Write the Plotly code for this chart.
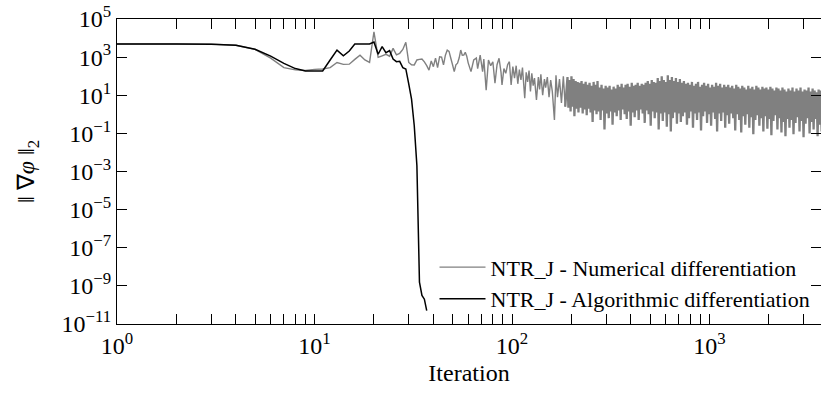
import plotly.graph_objects as go

# ---------------- data (log10 of ||grad phi||_2) ----------------
alg_iter = [1, 2, 3, 4, 5, 6, 7, 8, 9, 10, 11, 12, 13, 14, 15, 16, 17, 18, 19,
            20, 21, 22, 23, 24, 25, 26, 27, 28, 29, 30, 31, 32, 33, 34, 35, 36, 37]
alg_log = [3.69, 3.69, 3.68, 3.62, 3.41, 3.05, 2.67, 2.40, 2.27, 2.27, 2.27, 2.85,
           3.37, 3.07, 3.32, 3.69, 3.69, 3.69, 3.69, 3.79, 3.15, 3.55, 3.23, 3.34,
           2.90, 2.76, 2.78, 2.45, 2.38, 1.60, 0.80, -0.60, -2.70, -8.80, -9.50,
           -9.70, -10.30]

num_iter_a = [1, 2, 3, 4, 5, 6, 7, 8, 9, 10, 11, 12, 13, 14, 15, 16, 17, 18, 19, 20,
              21, 22, 23, 24, 25, 26, 27, 28, 29, 30, 31, 32, 33, 34, 35, 36, 37, 38,
              39, 40, 41, 42, 43, 44, 45, 46, 47, 48, 49, 50, 51, 52, 53, 54, 55, 56,
              57, 58, 59, 60, 62, 64, 66, 67, 69, 71, 72, 74, 76, 78, 80, 82, 84, 86,
              88, 89, 91, 93, 95, 97, 99, 101, 103, 105, 107, 109, 111, 113, 116, 118,
              120, 122, 124, 126, 128, 130, 133, 136, 138, 140, 143, 146, 148, 151,
              154, 157, 160, 164, 167, 170, 174, 178, 182, 186]
num_log_a = [3.69, 3.69, 3.68, 3.62, 3.41, 2.95, 2.45, 2.33, 2.30, 2.36, 2.38, 2.45,
             2.72, 2.62, 2.63, 2.88, 3.10, 2.85, 2.72, 4.33, 2.99, 3.07, 3.15, 3.05,
             3.46, 3.12, 3.20, 3.40, 3.78, 2.72, 2.60, 2.59, 2.85, 2.88, 2.90, 2.75,
             2.55, 2.32, 2.80, 2.50, 2.95, 2.45, 3.02, 3.00, 2.59, 3.10, 3.37, 3.30,
             2.94, 2.60, 2.24, 2.60, 2.68, 2.95, 3.37, 3.10, 3.11, 3.25, 3.05, 2.70,
             2.24, 2.85, 2.95, 2.40, 3.11, 2.24, 2.90, 1.27, 2.85, 2.55, 2.75, 1.63,
             2.60, 2.94, 2.20, 1.54, 2.40, 2.15, 2.60, 2.76, 1.54, 2.50, 1.90, 2.55,
             1.60, 2.35, 1.80, 2.45, 0.84, 2.20, 1.70, 2.30, 1.20, 2.15, 1.50, 1.90,
             0.75, 1.95, 1.30, 2.10, 1.00, 1.85, 1.40, 1.95, 0.90, 1.80, 1.20, -0.30,
             2.05, 0.90, 1.85, 0.60, 2.00, 0.40]

num_iter_b = [191, 193, 196, 198, 200, 203, 205, 207, 210, 212,
              215, 217, 220, 222, 225, 228, 230, 233, 236, 239,
              241, 244, 247, 250, 253, 256, 259, 262, 265, 268,
              271, 274, 278, 281, 284, 288, 291, 294, 298, 301,
              305, 309, 312, 316, 320, 323, 327, 331, 335, 339,
              343, 347, 351, 355, 359, 363, 368, 372, 376, 381,
              385, 390, 394, 399, 404, 408, 413, 418, 423, 428,
              433, 438, 443, 448, 454, 459, 464, 470, 475, 481,
              487, 492, 498, 504, 510, 516, 522, 528, 534, 541,
              547, 553, 560, 567, 573, 580, 587, 594, 601, 608,
              615, 622, 630, 637, 645, 652, 660, 668, 676, 684,
              692, 700, 708, 716, 725, 733, 742, 751, 760, 769,
              778, 787, 796, 806, 815, 825, 835, 844, 854, 865,
              875, 885, 896, 906, 917, 928, 939, 950, 961, 972,
              984, 995, 1007, 1019, 1031, 1043, 1055, 1068, 1080, 1093,
              1106, 1119, 1132, 1146, 1159, 1173, 1187, 1201, 1215, 1229,
              1244, 1258, 1273, 1288, 1303, 1319, 1334, 1350, 1366, 1382,
              1398, 1415, 1431, 1448, 1465, 1483, 1500, 1518, 1536, 1554,
              1572, 1591, 1610, 1629, 1648, 1667, 1687, 1707, 1727, 1747,
              1768, 1789, 1810, 1831, 1853, 1874, 1896, 1919, 1941, 1964,
              1987, 2011, 2034, 2058, 2082, 2107, 2132, 2157, 2182, 2208,
              2234, 2260, 2287, 2314, 2341, 2368, 2396, 2425, 2453, 2482,
              2511, 2541, 2571, 2601, 2632, 2663, 2694, 2726, 2758, 2790,
              2823, 2857, 2890, 2924, 2959, 2994, 3029, 3065, 3101, 3137,
              3174, 3212, 3250, 3288, 3327, 3366, 3406, 3446, 3486, 3527,
              3569, 3611, 3654, 3697]
num_log_b = [1.95, 0.35, 1.80, 0.15, 2.00, 0.40, 1.85, -0.10, 1.75, 0.30,
             1.70, 0.10, 1.65, 0.35, 1.75, 0.05, 1.60, 0.25, 1.70, -0.05,
             1.55, 0.30, 1.65, 0.10, 1.50, -0.40, 1.70, 0.20, 1.55, 0.00,
             1.75, 0.15, 1.40, -0.30, 1.55, 0.20, 1.35, -0.80, 1.50, 0.05,
             1.40, -0.20, 1.50, 0.15, 1.30, -0.55, 1.45, 0.10, 1.35, -0.10,
             1.55, 0.20, 1.45, -0.30, 1.60, 0.25, 1.40, 0.00, 1.55, -0.25,
             1.60, 0.15, 1.45, -0.60, 1.65, 0.10, 1.50, -0.15, 1.55, 0.20,
             1.65, -0.30, 1.50, 0.25, 1.60, 0.05, 1.55, -0.45, 1.65, 0.20,
             1.75, 0.00, 1.60, -0.60, 1.80, 0.15, 1.70, -0.20, 1.65, 0.10,
             1.90, -0.80, 1.75, 0.05, 2.00, -0.35, 1.80, 0.10, 1.70, -0.65,
             2.05, 0.00, 1.80, -0.90, 1.95, -0.20, 1.75, 0.10, 1.90, -0.50,
             1.70, 0.05, 1.85, -0.40, 1.65, -0.10, 1.75, 0.10, 1.60, -0.55,
             1.65, -0.20, 1.55, 0.15, 1.70, -0.70, 1.50, 0.05, 1.60, -0.30,
             1.70, 0.10, 1.45, -0.85, 1.55, -0.10, 1.65, 0.15, 1.50, -0.45,
             1.60, 0.00, 1.40, -0.60, 1.55, 0.10, 1.45, -0.25, 1.65, -0.90,
             1.50, 0.05, 1.60, -0.35, 1.40, 0.10, 1.55, -0.70, 1.45, -0.05,
             1.55, -0.50, 1.40, 0.05, 1.50, -0.20, 1.35, -0.85, 1.55, 0.00,
             1.45, -0.30, 1.35, -0.95, 1.50, -0.10, 1.40, -0.55, 1.30, 0.00,
             1.50, -0.70, 1.35, -0.15, 1.45, -1.05, 1.30, -0.30, 1.50, -0.05,
             1.40, -0.60, 1.30, -0.20, 1.45, -0.90, 1.35, -0.10, 1.40, -0.75,
             1.30, -0.25, 1.45, -1.10, 1.35, -0.35, 1.25, -0.05, 1.40, -0.80,
             1.35, -0.20, 1.25, -0.95, 1.40, -0.40, 1.30, -1.15, 1.20, -0.25,
             1.35, -0.70, 1.25, -0.30, 1.40, -1.05, 1.20, -0.45, 1.35, -0.15,
             1.25, -0.90, 1.40, -0.35, 1.20, -1.20, 1.30, -0.50, 1.25, -0.20,
             1.40, -1.00, 1.20, -0.40, 1.35, -0.80, 1.25, -0.25, 1.15, -1.15,
             1.30, -0.55, 1.25, -0.90]

x_tick_vals = [1, 10, 100, 1000]
x_tick_text = ["10<sup>0</sup>", "10<sup>1</sup>", "10<sup>2</sup>", "10<sup>3</sup>"]
x_minor_vals = [m * d for d in (1, 10, 100, 1000) for m in range(2, 10)]
y_exponents = [5, 3, 1, -1, -3, -5, -7, -9, -11]
y_tick_text = ["10<sup>%s</sup>" % str(e).replace("-", "\u2212") for e in y_exponents]

label_num = "NTR_J - Numerical differentiation"
label_alg = "NTR_J - Algorithmic differentiation"

# ---------------- figure ----------------
pairs_b = list(zip(num_iter_b, num_log_b))
num_x_a = num_iter_a
num_y_a = [10 ** v for v in num_log_a]
# dense tail continues from the last sparse sample
num_x_b = [num_iter_a[-1]] + [p[0] for p in pairs_b]
num_y_b = [10 ** num_log_a[-1]] + [10 ** p[1] for p in pairs_b]
alg_y = [10 ** v for v in alg_log]

FONT = "Liberation Serif, Times New Roman, serif"
GRAY = "#808080"

fig = go.Figure()
fig.add_trace(go.Scatter(x=num_x_a, y=num_y_a, mode="lines", name=label_num,
                         legendgroup="num",
                         line=dict(color=GRAY, width=1.4, simplify=False)))
fig.add_trace(go.Scatter(x=num_x_b, y=num_y_b, mode="lines", name=label_num,
                         legendgroup="num", showlegend=False,
                         line=dict(color=GRAY, width=2.3, simplify=False)))
fig.add_trace(go.Scatter(x=alg_iter, y=alg_y, mode="lines", name=label_alg,
                         line=dict(color="#000000", width=1.5, simplify=False)))
fig.add_trace(go.Scatter(x=[], y=[], yaxis="y2", mode="lines", showlegend=False,
                         hoverinfo="skip"))

y_tick_vals = [10 ** e for e in y_exponents]

fig.update_layout(
    width=821, height=395,
    margin=dict(l=117, r=0, t=19, b=71),
    paper_bgcolor="white", plot_bgcolor="white",
    font=dict(family=FONT, size=24, color="black"),
    showlegend=True,
    legend=dict(x=0.451, y=0.012, xanchor="left", yanchor="bottom",
                bgcolor="rgba(255,255,255,0)", borderwidth=0, itemwidth=46,
                font=dict(family=FONT, size=22, color="black"),
                tracegroupgap=0),
    xaxis=dict(type="log", range=[0, 3.5646], showgrid=False, zeroline=False,
               showline=True, linecolor="black", linewidth=1.3, mirror="allticks",
               ticks="inside", ticklen=10, tickwidth=1.2, tickcolor="black",
               tickvals=x_tick_vals, ticktext=x_tick_text,
               tickfont=dict(family=FONT, size=24),
               minor=dict(ticks="inside", ticklen=5, tickwidth=1, tickcolor="black",
                          tickvals=x_minor_vals, showgrid=False),
               title=dict(text="Iteration", standoff=6,
                          font=dict(family=FONT, size=24))),
    yaxis=dict(type="log", range=[-11, 5], showgrid=False, zeroline=False,
               showline=True, linecolor="black", linewidth=1.3, mirror=False,
               ticks="inside", ticklen=10, tickwidth=1.2, tickcolor="black",
               tickvals=y_tick_vals, ticktext=y_tick_text,
               tickfont=dict(family=FONT, size=24),
               title=dict(text="\u2016 \u2207<i>\u03c6</i> \u2016<sub>2</sub>", standoff=20,
                          font=dict(family=FONT, size=24))),
    yaxis2=dict(type="log", range=[-11, 5], overlaying="y", side="right",
                showgrid=False, zeroline=False, showline=False,
                ticks="inside", ticklen=10, tickwidth=1.2, tickcolor="black",
                tickvals=y_tick_vals, showticklabels=False),
)

fig.write_html("out.html")
